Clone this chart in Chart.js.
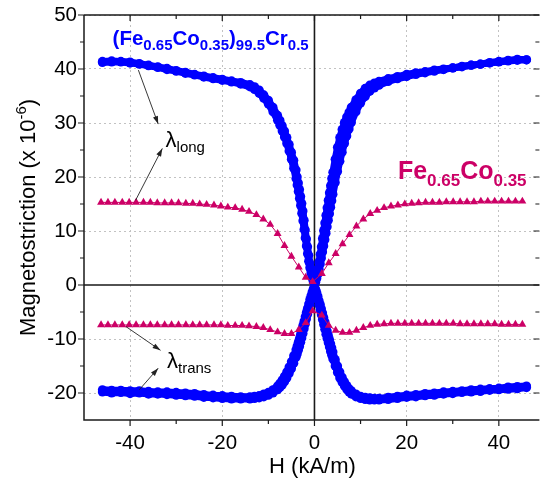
<!DOCTYPE html>
<html>
<head>
<meta charset="utf-8">
<script src="https://cdn.jsdelivr.net/npm/chart.js@4.4.0/dist/chart.umd.min.js"></script>
<style>
  html, body { margin: 0; padding: 0; background: #fff; }
</style>
</head>
<body>
<canvas id="chart" width="544" height="486"></canvas>
<script>
// field values H (kA/m) for the blue (Fe0.65Co0.35)99.5Cr0.5 loops
var hBlue = [-46,-44,-42,-40,-38,-36,-34,-32,-30,-28,-26,-24,-22,-20,-18,-16,-14,
  -13,-12,-11,-10,-9,-8,
  -7.5,-7,-6.5,-6,-5.5,-5,-4.5,-4,
  -3.75,-3.5,-3.25,-3,-2.75,-2.5,-2.25,-2,-1.75,-1.5,-1.25,-1,-0.75,-0.5,-0.25,
  0,
  0.25,0.5,0.75,1,1.25,1.5,1.75,2,2.25,2.5,2.75,3,3.25,3.5,3.75,4,
  4.5,5,5.5,6,6.5,7,7.5,8,
  9,10,11,12,13,14,
  16,18,20,22,24,26,28,30,32,34,36,38,40,42,44,46];

// lambda long, two branches of the loop
var longUp = [41.4,41.5,41.4,41.3,41.0,40.7,40.4,40.1,39.7,39.4,39.0,38.7,38.4,38.1,37.8,37.5,37.1,
  36.7,36.1,35.2,34.2,32.9,31.4,
  30.5,29.5,28.5,27.3,26.0,24.6,23.1,21.3,
  20.0,18.9,17.7,16.4,15.1,13.7,12.0,10.2,8.5,7.1,5.5,4.0,2.8,1.7,0.8,
  0.3,
  0.8,1.8,3.0,4.3,5.7,7.1,8.6,10.1,11.5,12.9,14.3,15.7,17.1,18.4,19.7,20.9,
  23.3,25.5,27.3,28.8,30.1,31.1,32.0,32.9,
  34.3,35.5,36.4,37.0,37.4,37.7,
  38.2,38.6,39.0,39.3,39.5,39.8,40.0,40.2,40.5,40.7,40.9,41.2,41.4,41.6,41.8,41.7];
var longDown = [41.2,41.3,41.3,41.1,40.9,40.6,40.3,39.9,39.6,39.2,38.9,38.5,38.2,37.9,37.6,37.2,36.7,
  36.2,35.5,34.6,33.5,32.1,30.5,
  29.6,28.5,27.4,26.2,24.8,23.3,21.6,19.7,
  18.5,17.3,16.0,14.7,13.3,11.9,10.3,8.7,7.2,5.8,4.4,3.2,2.2,1.3,0.6,
  0.2,
  0.5,1.2,2.0,2.9,3.9,5.0,6.1,7.2,8.4,9.6,10.8,12.0,13.2,14.4,15.6,16.8,
  19.0,21.0,22.9,24.6,26.2,27.6,28.9,30.1,
  32.1,33.7,34.9,35.9,36.5,37.0,
  37.7,38.2,38.6,39.0,39.3,39.6,39.9,40.2,40.4,40.7,40.9,41.1,41.3,41.5,41.6,41.7];

// lambda trans, two branches
var transUp = [-19.4,-19.5,-19.5,-19.6,-19.6,-19.7,-19.8,-19.8,-19.9,-20.0,-20.1,-20.3,-20.4,-20.5,-20.6,-20.7,-20.7,
  -20.6,-20.5,-20.2,-19.9,-19.4,-18.7,
  -18.2,-17.6,-16.9,-16.1,-15.2,-14.2,-13.1,-12.0,
  -11.3,-10.6,-9.9,-9.1,-8.3,-7.5,-6.7,-5.9,-5.1,-4.3,-3.5,-2.7,-2.0,-1.3,-0.7,
  -0.3,
  -0.8,-1.4,-2.1,-2.9,-3.6,-4.4,-5.2,-6.0,-6.8,-7.6,-8.5,-9.3,-10.1,-10.9,-11.6,-12.4,
  -13.8,-15.0,-16.1,-17.1,-17.9,-18.6,-19.2,-19.6,
  -20.2,-20.6,-20.8,-20.9,-21.0,-21.0,
  -20.8,-20.6,-20.4,-20.3,-20.1,-20.0,-19.8,-19.7,-19.6,-19.4,-19.3,-19.2,-19.1,-18.9,-18.8,-18.7];
var transDown = [-19.8,-20.0,-19.9,-20.1,-20.0,-20.2,-20.2,-20.3,-20.4,-20.5,-20.6,-20.8,-20.9,-21.0,-21.1,-21.1,-21.1,
  -21.0,-20.9,-20.7,-20.4,-20.0,-19.4,
  -19.0,-18.5,-17.9,-17.2,-16.4,-15.5,-14.5,-13.4,
  -12.8,-12.1,-11.4,-10.6,-9.8,-9.0,-8.1,-7.2,-6.3,-5.4,-4.5,-3.6,-2.7,-1.8,-1.0,
  -0.4,
  -1.1,-1.9,-2.8,-3.7,-4.6,-5.5,-6.4,-7.3,-8.2,-9.1,-9.9,-10.7,-11.5,-12.3,-13.0,-13.7,
  -15.0,-16.2,-17.2,-18.0,-18.7,-19.3,-19.8,-20.2,
  -20.7,-21.0,-21.2,-21.3,-21.3,-21.3,
  -21.2,-21.0,-20.8,-20.7,-20.5,-20.4,-20.2,-20.1,-19.9,-19.8,-19.7,-19.5,-19.4,-19.3,-19.2,-19.0];

// Fe0.65Co0.35 (triangles)
var hRed = [-46.3,-44.8,-43.3,-41.7,-40.2,-38.7,-37.1,-35.6,-34.1,-32.5,-31.0,-29.5,-27.9,-26.4,-24.9,-23.4,
  -21.8,-20.3,-18.8,-17.2,-15.7,-14.2,-12.6,-11.1,-9.6,-8.0,-6.5,-5.0,-3.4,-1.9,-0.4,
  1.6,3.1,4.6,6.1,7.6,9.1,10.6,12.1,13.6,15.1,16.6,18.1,19.6,21.1,22.6,24.1,25.6,27.1,28.6,30.1,
  31.6,33.1,34.6,36.1,37.6,39.1,40.6,42.1,43.6,45.1];
var redLong = [15.3,15.3,15.3,15.3,15.3,15.3,15.3,15.3,15.2,15.2,15.2,15.2,15.1,15.1,15.0,14.9,
  14.8,14.6,14.4,14.3,14.0,13.6,13.0,12.2,11.2,9.5,7.3,5.3,3.3,1.4,0.6,
  2.1,4.1,5.8,7.6,9.3,10.9,12.2,13.2,13.8,14.3,14.6,14.8,15.0,15.1,15.2,15.3,15.3,15.3,15.4,15.4,
  15.4,15.4,15.4,15.5,15.5,15.5,15.5,15.5,15.5,15.5];
var redTrans = [-7.4,-7.4,-7.4,-7.4,-7.4,-7.4,-7.4,-7.4,-7.4,-7.4,-7.4,-7.4,-7.4,-7.4,-7.4,-7.4,
  -7.4,-7.4,-7.5,-7.5,-7.5,-7.6,-7.7,-7.9,-8.3,-8.7,-9.0,-9.0,-8.3,-7.0,-4.8,
  -5.6,-7.5,-8.4,-8.8,-8.8,-8.4,-7.9,-7.5,-7.3,-7.2,-7.1,-7.1,-7.1,-7.1,-7.1,-7.1,-7.1,-7.1,-7.1,-7.1,
  -7.2,-7.2,-7.2,-7.2,-7.2,-7.2,-7.3,-7.3,-7.3,-7.3];

var xTicks = [-40, -20, 0, 20, 40];
var xMinor = [-30, -10, 10, 30];
var yTicks = [-20, -10, 0, 10, 20, 30, 40, 50];
var yMinor = [-15, -5, 5, 15, 25, 35, 45];

var BLUE = '#0000ff';
var RED = '#cc0066';
var FONT = '"Liberation Sans", Arial, sans-serif';

function pts(xs, ys) {
  return xs.map(function (x, i) { return { x: x, y: ys[i] }; });
}

function blueSet(ys) {
  return {
    data: pts(hBlue, ys), showLine: true, borderColor: BLUE, borderWidth: 7,
    pointRadius: 4.6, pointBackgroundColor: BLUE, pointBorderColor: BLUE, pointBorderWidth: 0
  };
}
function redSet(ys) {
  return {
    data: pts(hRed, ys), showLine: true, borderColor: RED, borderWidth: 1,
    pointStyle: 'triangle', pointRadius: 4.6, pointBackgroundColor: RED, pointBorderColor: RED, pointBorderWidth: 0
  };
}

// text with sub/superscripts: parts = [[text, 'n'|'sub'|'sup'], ...]
function richWidth(ctx, parts, o) {
  var w = 0;
  parts.forEach(function (p) {
    ctx.font = o.weight + ' ' + (p[1] === 'n' ? o.size : o.sub) + 'px ' + FONT;
    w += ctx.measureText(p[0]).width;
  });
  return w;
}
function drawRich(ctx, parts, x, y, o) {
  var cx = x;
  parts.forEach(function (p) {
    ctx.font = o.weight + ' ' + (p[1] === 'n' ? o.size : o.sub) + 'px ' + FONT;
    var dy = p[1] === 'sub' ? o.drop : (p[1] === 'sup' ? -o.rise : 0);
    ctx.fillText(p[0], cx, y + dy);
    cx += ctx.measureText(p[0]).width;
  });
}
function arrow(ctx, x1, y1, x2, y2) {
  ctx.beginPath(); ctx.moveTo(x1, y1); ctx.lineTo(x2, y2); ctx.stroke();
  var a = Math.atan2(y2 - y1, x2 - x1), L = 8, W = 2.6;
  ctx.beginPath();
  ctx.moveTo(x2, y2);
  ctx.lineTo(x2 - L * Math.cos(a) + W * Math.sin(a), y2 - L * Math.sin(a) - W * Math.cos(a));
  ctx.lineTo(x2 - L * Math.cos(a) - W * Math.sin(a), y2 - L * Math.sin(a) + W * Math.cos(a));
  ctx.closePath(); ctx.fill();
}

var decor = {
  id: 'decor',
  beforeDatasetsDraw: function (chart) {
    var ctx = chart.ctx, a = chart.chartArea, x = chart.scales.x, y = chart.scales.y;
    var x0 = x.getPixelForValue(0), y0 = y.getPixelForValue(0);
    ctx.save();
    ctx.strokeStyle = '#1a1a1a'; ctx.lineWidth = 1.6;
    ctx.beginPath();
    ctx.moveTo(x0, a.top); ctx.lineTo(x0, a.bottom);
    ctx.moveTo(a.left, y0); ctx.lineTo(a.right, y0);
    ctx.stroke();
    ctx.restore();
  },
  afterDatasetsDraw: function (chart) {
    var ctx = chart.ctx, x = chart.scales.x, y = chart.scales.y;
    function px(v) { return x.getPixelForValue(v); }
    function py(v) { return y.getPixelForValue(v); }
    ctx.save();
    ctx.textBaseline = 'alphabetic'; ctx.textAlign = 'left';

    ctx.fillStyle = BLUE;
    drawRich(ctx, [['(Fe', 'n'], ['0.65', 'sub'], ['Co', 'n'], ['0.35', 'sub'], [')', 'n'], ['99.5', 'sub'], ['Cr', 'n'], ['0.5', 'sub']],
      px(-43.8), py(44.4), { weight: 'bold', size: 20.5, sub: 15, drop: 4.5 });

    ctx.fillStyle = RED;
    drawRich(ctx, [['Fe', 'n'], ['0.65', 'sub'], ['Co', 'n'], ['0.35', 'sub']],
      px(18.1), py(19.6), { weight: 'bold', size: 25, sub: 17, drop: 7 });

    ctx.fillStyle = '#000';
    drawRich(ctx, [['\u03bb', 'n'], ['long', 'sub']], px(-32.3), py(25.6), { weight: 'normal', size: 22, sub: 15, drop: 5 });
    drawRich(ctx, [['\u03bb', 'n'], ['trans', 'sub']], px(-32.0), py(-15.4), { weight: 'normal', size: 22, sub: 15, drop: 5 });

    ctx.strokeStyle = '#222'; ctx.fillStyle = '#222'; ctx.lineWidth = 0.9;
    [[-38.2, 39.8, -33.9, 29.8], [-38.8, 15.7, -33.0, 25.3],
     [-40.9, -7.7, -33.4, -12.1], [-38.0, -19.4, -33.9, -15.4]].forEach(function (s) {
      arrow(ctx, px(s[0]), py(s[1]), px(s[2]), py(s[3]));
    });
    ctx.restore();
  },
  afterDraw: function (chart) {
    var ctx = chart.ctx, a = chart.chartArea, x = chart.scales.x, y = chart.scales.y;
    ctx.save();
    ctx.strokeStyle = '#1a1a1a'; ctx.lineWidth = 1.5;
    ctx.beginPath();
    ctx.moveTo(a.left, a.top); ctx.lineTo(a.right, a.top);
    ctx.moveTo(a.left, a.top); ctx.lineTo(a.left, a.bottom); ctx.lineTo(a.right, a.bottom);
    ctx.stroke();
    ctx.lineWidth = 1.2;
    ctx.beginPath();
    function xt(v, len) {
      var p = x.getPixelForValue(v);
      ctx.moveTo(p, a.bottom); ctx.lineTo(p, a.bottom + len);
      ctx.moveTo(p, a.top); ctx.lineTo(p, a.top + len);
    }
    function yt(v, len) {
      var p = y.getPixelForValue(v);
      ctx.moveTo(a.left, p); ctx.lineTo(a.left - len, p);
      ctx.moveTo(a.right, p); ctx.lineTo(a.right - len, p);
    }
    xTicks.forEach(function (v) { xt(v, 6); });
    xMinor.forEach(function (v) { xt(v, 4); });
    yTicks.forEach(function (v) { yt(v, 6); });
    yMinor.forEach(function (v) { yt(v, 4); });
    ctx.stroke();

    // axis titles
    ctx.fillStyle = '#000';
    ctx.textBaseline = 'alphabetic';
    ctx.font = '22px ' + FONT;
    ctx.textAlign = 'center';
    ctx.fillText('H (kA/m)', x.getPixelForValue(0) - 2, 473);

    ctx.textAlign = 'left';
    var parts = [['Magnetostriction (x 10', 'n'], ['-6', 'sup'], [')', 'n']];
    var o = { weight: 'normal', size: 22, sub: 15, rise: 9 };
    var w = richWidth(ctx, parts, o);
    ctx.translate(35, (a.top + a.bottom) / 2);
    ctx.rotate(-Math.PI / 2);
    drawRich(ctx, parts, -w / 2, 0, o);
    ctx.restore();
  }
};

function gridColor(c) {
  return c.tick && c.tick.value === 0 ? 'rgba(0,0,0,0)' : '#c2c2c2';
}

new Chart(document.getElementById('chart').getContext('2d'), {
  type: 'scatter',
  data: {
    datasets: [redSet(redLong), redSet(redTrans), blueSet(longUp), blueSet(longDown), blueSet(transUp), blueSet(transDown)]
  },
  options: {
    responsive: false,
    animation: false,
    layout: { padding: { top: 15, left: 0, right: 0, bottom: 0 } },
    plugins: { legend: { display: false }, tooltip: { enabled: false } },
    scales: {
      x: {
        type: 'linear', min: -50, max: 48.8,
        afterBuildTicks: function (s) { s.ticks = xTicks.map(function (v) { return { value: v }; }); },
        afterFit: function (s) { s.height = 66; s.paddingLeft = 0; s.paddingRight = 0; },
        grid: { color: gridColor, lineWidth: 1, drawTicks: false },
        border: { display: false, dash: [2, 3] },
        ticks: { color: '#000', padding: 11, maxRotation: 0, font: { family: FONT, size: 20.5 } }
      },
      y: {
        type: 'linear', min: -25, max: 50,
        afterBuildTicks: function (s) { s.ticks = yTicks.map(function (v) { return { value: v }; }); },
        afterFit: function (s) { s.width = 84; s.paddingTop = 0; s.paddingBottom = 0; },
        grid: { color: gridColor, lineWidth: 1, drawTicks: false },
        border: { display: false, dash: [2, 3] },
        ticks: { color: '#000', padding: 7, font: { family: FONT, size: 20.5 } }
      }
    }
  },
  plugins: [decor]
});
</script>
</body>
</html>
